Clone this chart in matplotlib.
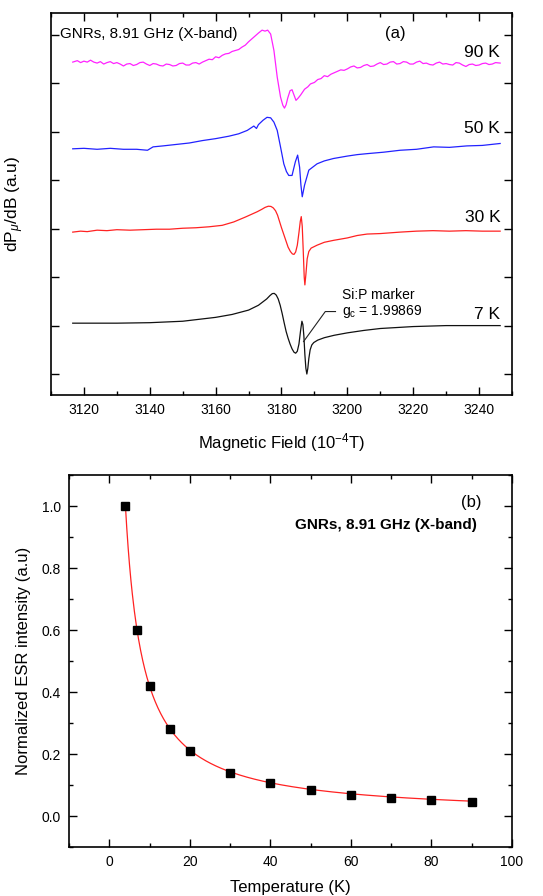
import numpy as np
import matplotlib
matplotlib.use("Agg")
import matplotlib.pyplot as plt
from matplotlib.ticker import MultipleLocator, FormatStrFormatter, NullFormatter

plt.rcParams['font.family'] = ['Liberation Sans', 'DejaVu Sans']
plt.rcParams['mathtext.fontset'] = 'custom'
plt.rcParams['mathtext.rm'] = 'Liberation Sans'
plt.rcParams['mathtext.it'] = 'Liberation Sans:italic'
plt.rcParams['mathtext.bf'] = 'Liberation Sans:bold'

# ---------------- Panel (a): ESR spectra (offset, arbitrary units) ----------------
field_90K = [3116.6, 3118, 3119, 3120, 3121, 3122, 3123, 3124, 3125, 3126, 3127, 3128, 3129,
             3130, 3131, 3132, 3133, 3134, 3135, 3136, 3137, 3138, 3139, 3140, 3141,
             3142, 3143, 3144, 3145, 3146, 3147, 3148, 3149, 3150, 3151, 3152, 3153, 3154,
             3155, 3156, 3157, 3158, 3159, 3160, 3161, 3162, 3163, 3164, 3165, 3166, 3167,
             3168, 3169, 3170, 3171.5, 3173, 3174.1, 3175, 3175.8, 3176.7, 3177.7, 3178.7, 3179.7,
             3180.4, 3180.9, 3181.4, 3181.9, 3182.6, 3183.2, 3183.8, 3184.4, 3185.1, 3185.8,
             3187, 3188, 3188.8, 3190, 3191, 3192, 3193, 3194, 3195, 3196, 3197, 3198, 3199,
             3200, 3201, 3202, 3203, 3204, 3205, 3206, 3207, 3208, 3209, 3210, 3211,
             3212, 3213, 3214, 3215, 3216, 3217, 3218, 3219, 3220, 3221, 3222, 3223, 3224,
             3225, 3226, 3227, 3228, 3229, 3230, 3231, 3232, 3233, 3234, 3235, 3236,
             3237, 3238, 3239, 3240, 3241, 3242, 3243, 3244, 3245, 3246.4]
signal_90K = [6.44, 6.47, 6.43, 6.46, 6.44, 6.48, 6.44, 6.42, 6.45, 6.40, 6.43, 6.45, 6.41,
              6.43, 6.40, 6.36, 6.40, 6.41, 6.37, 6.39, 6.43, 6.44, 6.40, 6.37, 6.41,
              6.40, 6.37, 6.36, 6.40, 6.39, 6.36, 6.37, 6.41, 6.42, 6.38, 6.38, 6.42, 6.43,
              6.40, 6.44, 6.47, 6.50, 6.49, 6.55, 6.53, 6.58, 6.61, 6.62, 6.66, 6.68, 6.70,
              6.75, 6.79, 6.86, 6.95, 7.04, 7.10, 7.08, 7.10, 7.02, 6.68, 6.13, 5.72,
              5.55, 5.49, 5.56, 5.70, 5.85, 5.87, 5.76, 5.65, 5.70, 5.76,
              5.88, 5.93, 5.99, 6.02, 6.08, 6.10, 6.16, 6.14, 6.19, 6.22, 6.25, 6.28, 6.27,
              6.30, 6.34, 6.36, 6.32, 6.33, 6.37, 6.39, 6.35, 6.36, 6.40, 6.43, 6.39,
              6.40, 6.44, 6.45, 6.40, 6.41, 6.45, 6.44, 6.40, 6.40, 6.44, 6.46, 6.41, 6.42,
              6.39, 6.38, 6.42, 6.44, 6.40, 6.41, 6.39, 6.38, 6.43, 6.42, 6.38, 6.35,
              6.39, 6.40, 6.37, 6.38, 6.41, 6.42, 6.39, 6.40, 6.43, 6.42]

field_50K = [3116.6, 3120, 3124, 3128, 3132, 3136, 3139.3, 3141, 3144, 3148, 3152, 3156,
             3160, 3164, 3167, 3169.6, 3171.6, 3172.4, 3173, 3174.4, 3175.6, 3176.7, 3177.7,
             3178.7, 3179.7, 3180.7, 3181.5, 3182.2, 3183.2, 3184.2, 3184.9, 3185.5, 3185.9,
             3186.3, 3187, 3188.3, 3190.8, 3193, 3195.8, 3200, 3203, 3206, 3211, 3216, 3221,
             3226.2, 3231, 3236.3, 3241, 3246.4]
signal_50K = [4.65, 4.66, 4.64, 4.66, 4.64, 4.64, 4.62, 4.69, 4.71, 4.74, 4.77, 4.82,
              4.86, 4.91, 4.96, 5.03, 5.12, 5.07, 5.15, 5.24, 5.30, 5.29, 5.20,
              5.03, 4.69, 4.34, 4.18, 4.10, 4.10, 4.38, 4.52, 4.27, 3.90,
              3.66, 3.90, 4.21, 4.34, 4.40, 4.45, 4.50, 4.53, 4.55, 4.58, 4.62, 4.64,
              4.69, 4.68, 4.71, 4.72, 4.76]

field_30K = [3116.6, 3119, 3121, 3124, 3127, 3130, 3134, 3138, 3142, 3146, 3150, 3154,
             3158, 3162, 3165.5, 3169, 3172.6, 3174, 3175, 3176, 3176.8, 3177.5, 3178.2,
             3178.8, 3179.4, 3180, 3180.7, 3181.4, 3182, 3182.7, 3183.3, 3183.8, 3184.3,
             3184.8, 3185.3, 3185.7, 3186, 3186.3, 3186.6, 3186.9, 3187.1, 3187.4, 3187.8,
             3188.3, 3189, 3190.8, 3193, 3195.8, 3200, 3203, 3206, 3210, 3216, 3221, 3226,
             3231, 3236, 3241, 3246.4]
signal_30K = [2.93, 2.95, 2.94, 2.97, 2.96, 2.98, 2.97, 2.98, 2.99, 2.99, 3.01, 3.02,
              3.04, 3.07, 3.14, 3.24, 3.35, 3.40, 3.44, 3.465, 3.46, 3.43, 3.37,
              3.28, 3.15, 3.02, 2.88, 2.74, 2.62, 2.53, 2.48, 2.47, 2.52,
              2.66, 2.92, 3.15, 3.25, 3.05, 2.55, 2.00, 1.84, 2.05, 2.38,
              2.53, 2.60, 2.66, 2.72, 2.76, 2.81, 2.86, 2.89, 2.90, 2.93, 2.95, 2.96,
              2.95, 2.96, 2.95, 2.95]

field_7K = [3116.6, 3130, 3140, 3150, 3160, 3165, 3170, 3173, 3175.5, 3176.5, 3177.2,
            3177.8, 3178.4, 3179, 3179.6, 3180.2, 3180.8, 3181.4, 3182, 3182.6, 3183.2,
            3183.8, 3184.3, 3184.8, 3185.3, 3185.8, 3186.2, 3186.5, 3186.8, 3187.1, 3187.4,
            3187.7, 3188.0, 3188.3, 3188.7, 3189.2, 3189.8, 3191, 3193, 3196, 3200, 3205,
            3210, 3220, 3230, 3240, 3246.4]
signal_7K = [1.05, 1.05, 1.06, 1.09, 1.17, 1.23, 1.32, 1.42, 1.55, 1.62, 1.66,
             1.665, 1.63, 1.55, 1.42, 1.25, 1.06, 0.88, 0.74, 0.62, 0.52,
             0.45, 0.43, 0.47, 0.62, 0.90, 1.09, 1.02, 0.78, 0.40, 0.12,
             0.00, 0.12, 0.32, 0.50, 0.60, 0.65, 0.70, 0.75, 0.80, 0.85, 0.90,
             0.94, 0.98, 1.00, 1.00, 1.00]

spectra_labels = ['90 K', '50 K', '30 K', '7 K']
spectra_colors = ['#ff22ff', '#2222ff', '#ff2222', '#111111']

# ---------------- Panel (b): normalized ESR intensity vs temperature ----------------
temperature = [4, 7, 10, 15, 20, 30, 40, 50, 60, 70, 80, 90]
intensity = [1.00, 0.60, 0.42, 0.28, 0.21, 0.14, 0.105, 0.084, 0.069, 0.059, 0.051, 0.046]

fig = plt.figure(figsize=(5.43, 8.96), dpi=100)
W, H = 543.0, 896.0

# ---------- top axes ----------
ax1 = fig.add_axes([51 / W, 1 - 395 / H, 461 / W, 382 / H])
fields = [field_90K, field_50K, field_30K, field_7K]
signals = [signal_90K, signal_50K, signal_30K, signal_7K]
for f, s, c in zip(fields, signals, spectra_colors):
    ax1.plot(f, s, color=c, lw=0.9)

ax1.set_xlim(3110, 3250)
ax1.set_ylim(-0.433, 7.454)
ax1.xaxis.set_major_locator(MultipleLocator(20))
ax1.xaxis.set_minor_locator(MultipleLocator(10))
ax1.yaxis.set_major_locator(MultipleLocator(1))
ax1.yaxis.set_major_formatter(NullFormatter())
ax1.tick_params(which='both', direction='in', top=True, right=True, width=1.0,
                labelsize=10, pad=6)
ax1.tick_params(which='major', length=5.5)
ax1.tick_params(which='minor', length=3)
for sp in ax1.spines.values():
    sp.set_linewidth(1.2)

ax1.set_xlabel('Magnetic Field (10$^{\\mathregular{-4}}$T)', fontsize=12)
ax1.xaxis.set_label_coords(0.5, -0.095)
ax1.set_ylabel('dP$_{\\mu}$/dB (a.u)', fontsize=12.5)
ax1.yaxis.set_label_coords(-0.055, 0.5)

ax1.text(3112.7, 7.03, 'GNRs, 8.91 GHz (X-band)', fontsize=11, ha='left', va='center')
ax1.text(3214.5, 7.03, '(a)', fontsize=12, ha='center', va='center')
label_y = [6.64, 5.07, 3.24, 1.23]
for lab, ly in zip(spectra_labels, label_y):
    ax1.text(3246.4, ly, lab, fontsize=12.5, ha='right', va='center')

# Si:P marker annotation
ax1.plot([3186.7, 3193.3, 3196.4], [0.67, 1.29, 1.29], color='#222222', lw=0.8)
ax1.text(3198.3, 1.63, 'Si:P marker', fontsize=10, ha='left', va='center')
ax1.text(3198.3, 1.30, 'g$_{\\mathregular{c}}$ = 1.99869', fontsize=10, ha='left', va='center')

# ---------- bottom axes ----------
ax2 = fig.add_axes([69 / W, 1 - 847 / H, 443 / W, 372 / H])
T = np.array(temperature, dtype=float)
I = np.array(intensity, dtype=float)

# Curie-Weiss fit I = C / (T - theta), theta found by grid search, C by least squares
best = None
for theta in np.linspace(-3, 3, 601):
    x = 1.0 / (T - theta)
    C = np.dot(x, I) / np.dot(x, x)
    r = np.sum((I - C * x) ** 2)
    if best is None or r < best[0]:
        best = (r, theta, C)
_, theta, C = best
Tfit = np.linspace(T.min(), T.max(), 500)
ax2.plot(Tfit, C / (Tfit - theta), color='#ff2222', lw=0.9, zorder=2)
ax2.plot(T, I, 's', color='black', markersize=5.5, zorder=3)

ax2.set_xlim(-10, 100)
ax2.set_ylim(-0.1, 1.1)
ax2.xaxis.set_major_locator(MultipleLocator(20))
ax2.xaxis.set_minor_locator(MultipleLocator(10))
ax2.yaxis.set_major_locator(MultipleLocator(0.2))
ax2.yaxis.set_minor_locator(MultipleLocator(0.1))
ax2.yaxis.set_major_formatter(FormatStrFormatter('%.1f'))
ax2.tick_params(which='both', direction='in', top=True, right=True, width=1.0,
                labelsize=10, pad=6)
ax2.tick_params(which='major', length=5.5)
ax2.tick_params(which='minor', length=3)
for sp in ax2.spines.values():
    sp.set_linewidth(1.2)

ax2.set_xlabel('Temperature (K)', fontsize=12)
ax2.xaxis.set_label_coords(0.5, -0.088)
ax2.set_ylabel('Normalized ESR intensity (a.u)', fontsize=12)
ax2.yaxis.set_label_coords(-0.085, 0.5)

ax2.text(92.5, 1.01, '(b)', fontsize=12, ha='right', va='center')
ax2.text(91.3, 0.94, 'GNRs, 8.91 GHz (X-band)', fontsize=11, fontweight='bold',
         ha='right', va='center')

fig.savefig('out.png', dpi=100)
